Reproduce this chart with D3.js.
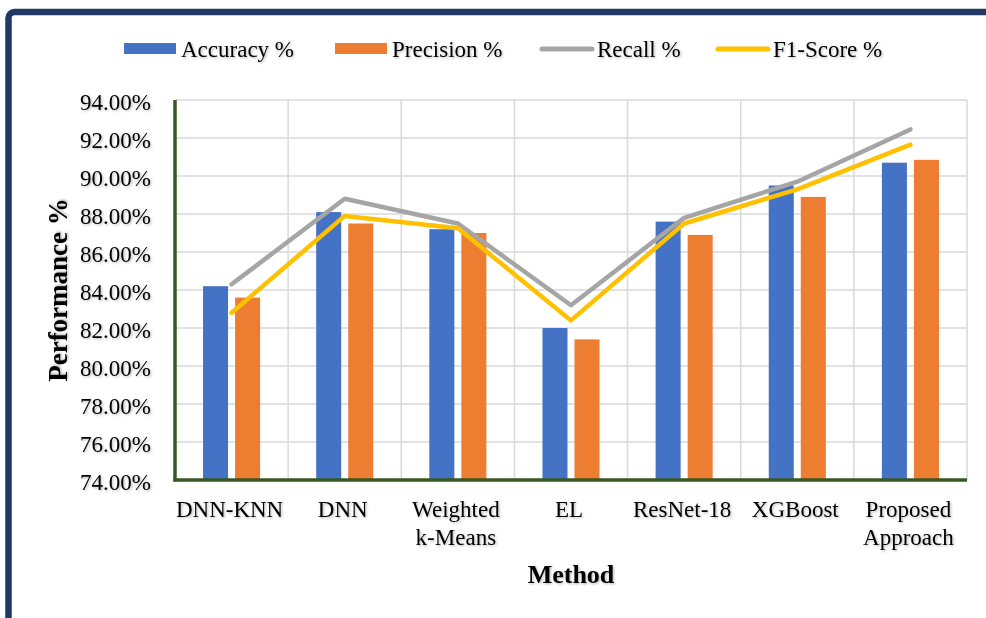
<!DOCTYPE html>
<html>
<head>
<meta charset="utf-8">
<script src="https://cdn.jsdelivr.net/npm/d3@7/dist/d3.min.js"></script>
<style>
  html, body { margin: 0; padding: 0; background: #ffffff; overflow: hidden; }
  svg { display: block; }
  text { font-family: "Liberation Serif", "Times New Roman", serif; fill: #000; }
  .shadow { filter: url(#txtShadow); }
</style>
</head>
<body>
<svg id="chart" width="986" height="618"></svg>
<script>
// Methods compared and their scores (%)
const methods = ["DNN-KNN", "DNN", "Weighted\nk-Means", "EL", "ResNet-18", "XGBoost", "Proposed\nApproach"];
const accuracy  = [84.2, 88.1, 87.2, 82.0, 87.6, 89.5, 90.7];
const precision = [83.6, 87.5, 87.0, 81.4, 86.9, 88.9, 90.85];
const recall    = [84.3, 88.8, 87.5, 83.2, 87.8, 89.7, 92.45];
const f1Score   = [82.8, 87.9, 87.25, 82.4, 87.5, 89.3, 91.65];
const yTicks    = [74, 76, 78, 80, 82, 84, 86, 88, 90, 92, 94];
const seriesNames = ["Accuracy %", "Precision %", "Recall %", "F1-Score %"];

const colors = { acc: "#4472c4", prec: "#ed7d31", rec: "#a5a5a5", f1: "#ffc000" };

const svg = d3.select("#chart");
const W = 986, H = 618;

// soft grey text shadow
const defs = svg.append("defs");
const f = defs.append("filter").attr("id", "txtShadow").attr("x", "-10%").attr("y", "-20%").attr("width", "130%").attr("height", "150%");
f.append("feDropShadow").attr("dx", 1.2).attr("dy", 1.2).attr("stdDeviation", 0.8)
  .attr("flood-color", "#000").attr("flood-opacity", 0.28);

// outer frame (continues past the right and bottom edges)
svg.append("rect")
  .attr("x", 8.5).attr("y", 12).attr("width", W + 80).attr("height", H + 80)
  .attr("rx", 6).attr("ry", 6)
  .attr("fill", "#ffffff").attr("stroke", "#203864").attr("stroke-width", 6.5);

const plot = { left: 175, right: 967, top: 100, bottom: 480 };

const x = d3.scaleBand().domain(d3.range(methods.length))
  .range([plot.left, plot.right]).paddingInner(0).paddingOuter(0);
const xSub = d3.scaleBand().domain(["acc", "prec"])
  .range([0, x.bandwidth()]).paddingInner(0.21875).paddingOuter(0.875);
const y = d3.scaleLinear().domain([74, 94]).range([plot.bottom, plot.top]);

// gridlines
const grid = svg.append("g").attr("stroke", "#d9d9d9").attr("stroke-width", 1.5);
grid.selectAll("line.h").data(yTicks).join("line").attr("class", "h")
  .attr("x1", plot.left).attr("x2", plot.right)
  .attr("y1", d => y(d)).attr("y2", d => y(d));
grid.selectAll("line.v").data(d3.range(1, methods.length + 1)).join("line").attr("class", "v")
  .attr("x1", i => i < methods.length ? x(i) : plot.right)
  .attr("x2", i => i < methods.length ? x(i) : plot.right)
  .attr("y1", plot.top).attr("y2", plot.bottom);

// bars
const bars = svg.append("g");
bars.selectAll("rect.acc").data(accuracy).join("rect").attr("class", "acc")
  .attr("x", (d, i) => x(i) + xSub("acc")).attr("width", xSub.bandwidth())
  .attr("y", d => y(d)).attr("height", d => y(74) - y(d)).attr("fill", colors.acc);
bars.selectAll("rect.prec").data(precision).join("rect").attr("class", "prec")
  .attr("x", (d, i) => x(i) + xSub("prec")).attr("width", xSub.bandwidth())
  .attr("y", d => y(d)).attr("height", d => y(74) - y(d)).attr("fill", colors.prec);

// lines
const line = d3.line().x((d, i) => x(i) + x.bandwidth() / 2).y(d => y(d));
svg.append("path").datum(recall).attr("d", line)
  .attr("fill", "none").attr("stroke", colors.rec).attr("stroke-width", 4.5)
  .attr("stroke-linecap", "round").attr("stroke-linejoin", "round");
svg.append("path").datum(f1Score).attr("d", line)
  .attr("fill", "none").attr("stroke", colors.f1).attr("stroke-width", 4.5)
  .attr("stroke-linecap", "round").attr("stroke-linejoin", "round");

// axes lines
svg.append("line").attr("x1", plot.left).attr("x2", plot.left)
  .attr("y1", plot.top).attr("y2", plot.bottom + 1.5)
  .attr("stroke", "#385723").attr("stroke-width", 3.5);
svg.append("line").attr("x1", plot.left - 1.5).attr("x2", plot.right)
  .attr("y1", plot.bottom).attr("y2", plot.bottom)
  .attr("stroke", "#385723").attr("stroke-width", 3.5);

// y tick labels
const yAxis = d3.axisLeft(y).tickValues(yTicks).tickSize(0).tickPadding(24)
  .tickFormat(d => d.toFixed(2) + "%");
const ya = svg.append("g").attr("transform", `translate(${plot.left},0)`).call(yAxis);
ya.select(".domain").remove();
ya.selectAll("text").attr("font-size", 23).attr("class", "shadow")
  .attr("font-family", "Liberation Serif, Times New Roman, serif").attr("dy", "0.4em");

// category labels
const cat = svg.append("g").attr("font-size", 23).attr("text-anchor", "middle");
methods.forEach((m, i) => {
  const t = cat.append("text").attr("class", "shadow")
    .attr("x", x(i) + x.bandwidth() / 2 - 2).attr("y", 517);
  m.split("\n").forEach((s, k) => {
    t.append("tspan").attr("x", x(i) + x.bandwidth() / 2 - 2).attr("dy", k === 0 ? 0 : 28).text(s);
  });
});

// axis titles
svg.append("text").attr("class", "shadow")
  .attr("x", (plot.left + plot.right) / 2).attr("y", 583)
  .attr("text-anchor", "middle").attr("font-size", 26).attr("font-weight", "bold")
  .text("Method");
svg.append("text").attr("class", "shadow")
  .attr("transform", `translate(67,${(plot.top + plot.bottom) / 2}) rotate(-90)`)
  .attr("text-anchor", "middle").attr("font-size", 27).attr("font-weight", "bold")
  .text("Performance %");

// legend
const legendX = [124, 335, 540, 716];
const lg = svg.append("g");
seriesNames.forEach((name, i) => {
  const x0 = legendX[i];
  if (i < 2) {
    lg.append("rect").attr("x", x0).attr("y", 43).attr("width", 52).attr("height", 11)
      .attr("fill", i === 0 ? colors.acc : colors.prec);
  } else {
    lg.append("line").attr("x1", x0 + 2).attr("x2", x0 + 52).attr("y1", 49).attr("y2", 49)
      .attr("stroke", i === 2 ? colors.rec : colors.f1).attr("stroke-width", 5)
      .attr("stroke-linecap", "round");
  }
  lg.append("text").attr("class", "shadow").attr("x", x0 + 57).attr("y", 57)
    .attr("font-size", 23).text(name);
});
</script>
</body>
</html>
